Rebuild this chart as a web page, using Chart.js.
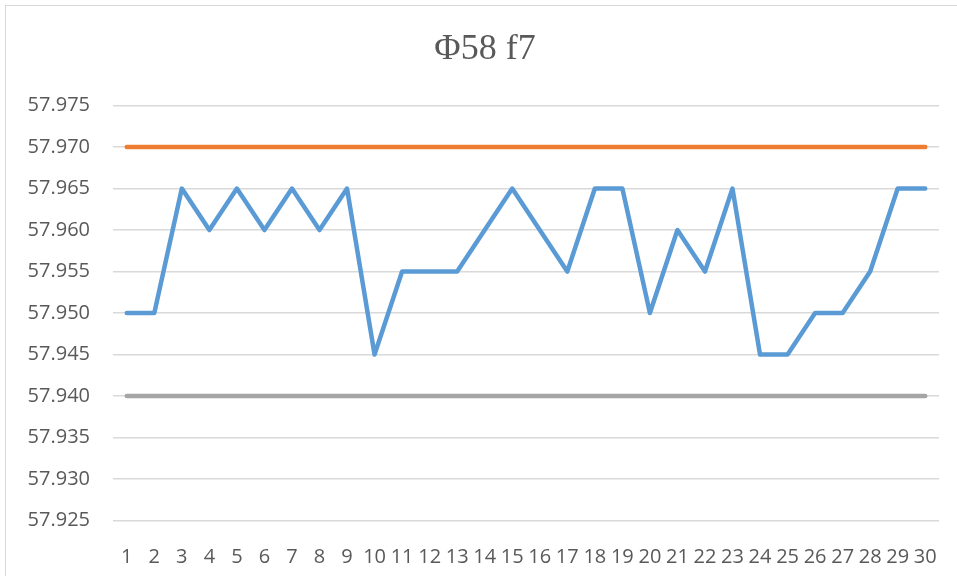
<!DOCTYPE html>
<html>
<head>
<meta charset="utf-8">
<script src="https://cdn.jsdelivr.net/npm/chart.js@4"></script>
<style>
    body { margin: 0; background: #fff; }
    #wrap { position: relative; width: 957px; height: 576px; overflow: hidden; background: #fff; }
    #frame { position: absolute; left: 5px; top: 5px; width: 1000px; height: 1000px; border: 1.5px solid #d9d9d9; box-sizing: border-box; }
    #chart { position: absolute; left: 0; top: 0; }
</style>
</head>
<body>
<div id="wrap">
    <div id="frame"></div>
    <canvas id="chart" width="957" height="576"></canvas>
</div>
<script>
const categories = ['1','2','3','4','5','6','7','8','9','10','11','12','13','14','15','16','17','18','19','20','21','22','23','24','25','26','27','28','29','30'];
const measured = [57.950, 57.950, 57.965, 57.960, 57.965, 57.960, 57.965, 57.960, 57.965, 57.945,
                  57.955, 57.955, 57.955, 57.960, 57.965, 57.960, 57.955, 57.965, 57.965, 57.950,
                  57.960, 57.955, 57.965, 57.945, 57.945, 57.950, 57.950, 57.955, 57.965, 57.965];
const upperLimit = [57.970, 57.970, 57.970, 57.970, 57.970, 57.970, 57.970, 57.970, 57.970, 57.970,
                    57.970, 57.970, 57.970, 57.970, 57.970, 57.970, 57.970, 57.970, 57.970, 57.970,
                    57.970, 57.970, 57.970, 57.970, 57.970, 57.970, 57.970, 57.970, 57.970, 57.970];
const lowerLimit = [57.940, 57.940, 57.940, 57.940, 57.940, 57.940, 57.940, 57.940, 57.940, 57.940,
                    57.940, 57.940, 57.940, 57.940, 57.940, 57.940, 57.940, 57.940, 57.940, 57.940,
                    57.940, 57.940, 57.940, 57.940, 57.940, 57.940, 57.940, 57.940, 57.940, 57.940];
const yTicks = [57.925, 57.930, 57.935, 57.940, 57.945, 57.950, 57.955, 57.960, 57.965, 57.970, 57.975];

const lineStyle = { pointRadius: 0, pointHoverRadius: 0, borderWidth: 4.5, tension: 0, borderCapStyle: 'round', borderJoinStyle: 'round', fill: false };

// title is centred on the chart frame, not the whole canvas
const shiftTitle = {
    id: 'shiftTitle',
    afterLayout(chart) {
        if (chart.titleBlock) chart.titleBlock.left = 31;
    }
};

new Chart(document.getElementById('chart'), {
    type: 'line',
    data: {
        labels: categories,
        datasets: [
            { label: 'measured', data: measured, borderColor: '#5B9BD5', ...lineStyle },
            { label: 'upper', data: upperLimit, borderColor: '#ED7D31', ...lineStyle },
            { label: 'lower', data: lowerLimit, borderColor: '#A5A5A5', ...lineStyle }
        ]
    },
    plugins: [shiftTitle],
    options: {
        responsive: false,
        animation: false,
        layout: { padding: { left: 0, right: 18, top: 0, bottom: 0 } },
        plugins: {
            legend: { display: false },
            tooltip: { enabled: false },
            title: {
                display: true,
                text: 'Φ58 f7',
                color: '#595959',
                font: { family: '"Liberation Serif", "Times New Roman", serif', size: 36, weight: 'normal' },
                padding: { top: 28, bottom: 34.4 }
            }
        },
        scales: {
            x: {
                offset: true,
                grid: { display: false },
                border: { display: false },
                ticks: {
                    autoSkip: false, maxRotation: 0, padding: 17,
                    color: '#595959',
                    font: { family: '"Open Sans", sans-serif', size: 20 }
                },
                afterFit: s => { s.height = 55.5; }
            },
            y: {
                min: 57.925,
                max: 57.975,
                grid: { color: '#d9d9d9', lineWidth: 1.5, drawTicks: false },
                border: { display: false },
                afterBuildTicks: s => { s.ticks = yTicks.map(v => ({ value: v })); },
                ticks: {
                    padding: 23,
                    color: '#595959',
                    font: { family: '"Open Sans", sans-serif', size: 20 },
                    callback: v => Number(v).toFixed(3)
                },
                afterFit: s => { s.width = 113; }
            }
        }
    }
});
</script>
</body>
</html>
